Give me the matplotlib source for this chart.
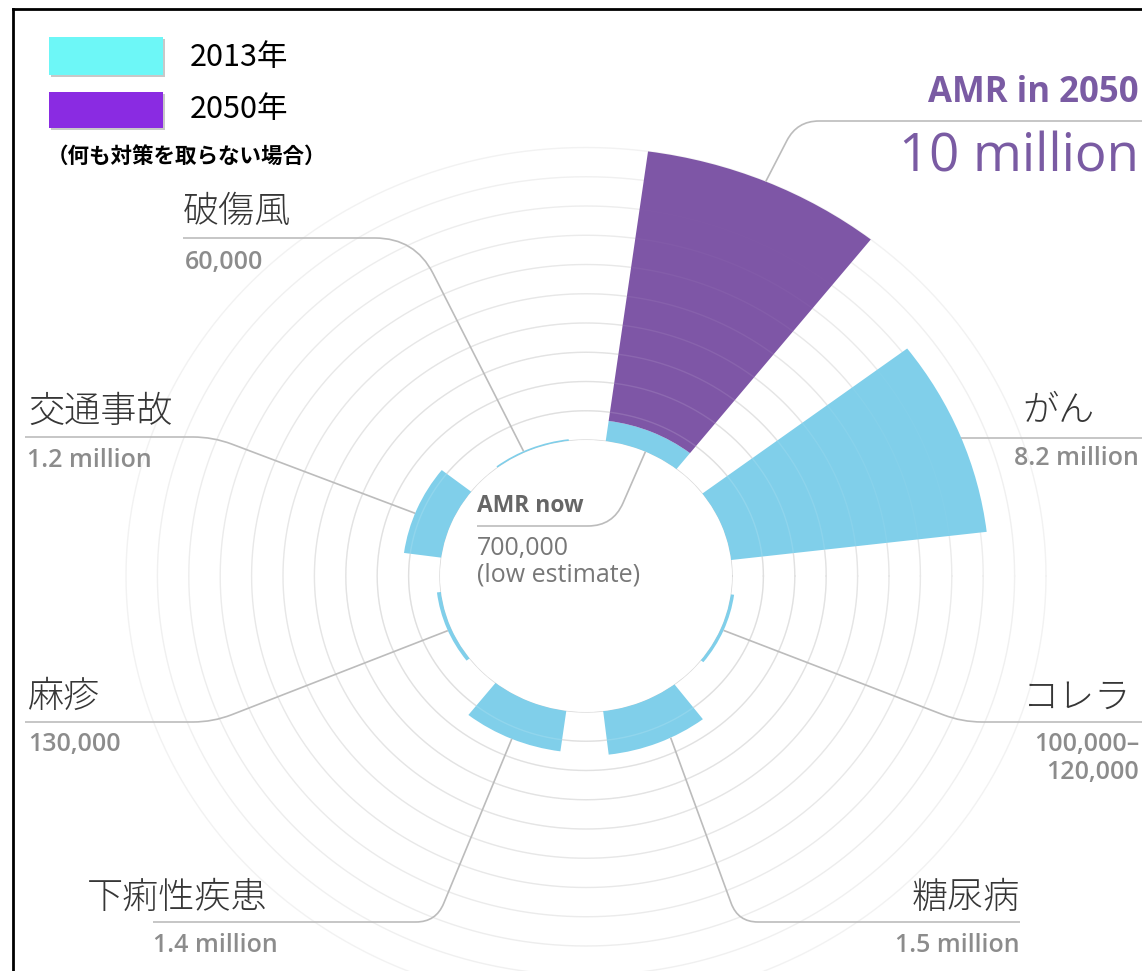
"""
AMR deaths radial chart: 2013 deaths by cause vs AMR projection for 2050.
Saves out.png (1142 x 971 px).
"""

import numpy as np
import matplotlib.pyplot as plt
from matplotlib.path import Path
from matplotlib.patches import PathPatch, Rectangle
from matplotlib.lines import Line2D

plt.rcParams['font.family'] = ['Noto Sans CJK JP', 'DejaVu Sans']

# ── Data (deaths per year, millions) ─────────────────────────────────────────
categories   = ['AMR', 'がん', 'コレラ', '糖尿病', '下痢性疾患', '麻疹', '交通事故', '破傷風']
deaths_2013  = [0.7, 8.2, 0.11, 1.5, 1.4, 0.13, 1.2, 0.06]
amr_2050     = 10.0
value_labels = ['', '8.2 million', '100,000–\n120,000', '1.5 million',
                '1.4 million', '130,000', '1.2 million', '60,000']
ring_values  = list(range(0, 11))
legend_labels = ['2013年', '2050年']
legend_note   = '（何も対策を取らない場合）'

# ── Styles ───────────────────────────────────────────────────────────────────
CYAN      = '#80cfea'
PURPLE    = '#7e56a6'
LEG_CYAN  = '#6df7f7'
LEG_PURP  = '#8a2be2'
LINE      = '#bcbcbc'
NUM_GRAY  = '#8c8c8c'
TXT_DARK  = '#363636'
TXT_PURP  = '#7a5ba3'
LATIN     = ['Open Sans', 'Noto Sans CJK JP', 'DejaVu Sans']

W, H = 1142, 971
fig = plt.figure(figsize=(W / 100, H / 100), dpi=100)


def fx(x):
    return x / W


def fy(y):
    return 1 - y / H


# ── Polar axes (slightly stretched horizontally, like the source) ────────────
CX, CY   = 586, 576       # centre, px from top-left
RX, RY   = 146, 136       # inner radius, px
PX_PER_M = 31.4           # horizontal px per million
R_MAX    = 11

r_origin = -RX / PX_PER_M
half_w   = (R_MAX - r_origin) * PX_PER_M
half_h   = half_w * RY / RX
ax = fig.add_axes([fx(CX - half_w), fy(CY + half_h), 2 * half_w / W, 2 * half_h / H],
                  projection='polar')
ax.set_aspect('auto')
ax.set_rorigin(r_origin)
ax.set_ylim(0, R_MAX)
ax.axis('off')

n      = len(categories)
step   = np.deg2rad(45)
thetas = np.deg2rad(67) - step * np.arange(n)
width  = np.deg2rad(30.5)

# rings behind bars, fading outwards
tt = np.linspace(0, 2 * np.pi, 721)
for v in ring_values:
    g = 0.85 + 0.10 * v / max(ring_values)
    ax.plot(tt, np.full_like(tt, v), color=(g, g, g), lw=1.0, zorder=1)

# bars
ax.bar(thetas, deaths_2013, width=width, bottom=0, color=CYAN, lw=0, zorder=2)
ax.bar(thetas[0], amr_2050 - deaths_2013[0], width=width, bottom=deaths_2013[0],
       color=PURPLE, lw=0, zorder=2)

# faint rings showing through the bars
for v in ring_values[1:]:
    a = max(0.0, 0.15 * (1 - v / 8.5))
    if a > 0:
        ax.plot(tt, np.full_like(tt, v), color='white', alpha=a, lw=1.0, zorder=3)


# ── Leader lines ─────────────────────────────────────────────────────────────
def data_px(theta_deg, r):
    x, y = ax.transData.transform((np.deg2rad(theta_deg), r))
    return x, H - y


def leader(p0, corner=None, p1=None, rad=20):
    if corner is None:
        verts = [p0, p1]
        codes = [Path.MOVETO, Path.LINETO]
    else:
        a0, c, b1 = np.array(p0, float), np.array(corner, float), np.array(p1, float)
        d0 = (a0 - c) / np.linalg.norm(a0 - c)
        d1 = (b1 - c) / np.linalg.norm(b1 - c)
        verts = [a0, c + d0 * rad, c, c + d1 * rad, b1]
        codes = [Path.MOVETO, Path.LINETO, Path.CURVE3, Path.CURVE3, Path.LINETO]
    verts = [(fx(x), fy(y)) for x, y in verts]
    fig.add_artist(PathPatch(Path(verts, codes), transform=fig.transFigure,
                             fill=False, ec=LINE, lw=1.2, zorder=5))


leader(data_px(66, 0), (613, 526), (477, 526), rad=25)           # AMR now
leader(data_px(67, amr_2050), (797, 121), (1142, 121), rad=22)   # AMR 2050
ca = data_px(21.5, deaths_2013[1])
leader(ca, None, (1142, ca[1]))                                  # がん
leader(data_px(-23, deaths_2013[2]), (962, 722), (1142, 722))    # コレラ
leader(data_px(-64, deaths_2013[3]), (738, 922), (1020, 922))    # 糖尿病
leader(data_px(-113, deaths_2013[4]), (436, 922), (153, 922))    # 下痢性疾患
leader(data_px(-157, deaths_2013[5]), (213, 722), (25, 722))     # 麻疹
leader(data_px(158.5, deaths_2013[6]), (213, 437), (25, 437))    # 交通事故
leader(data_px(115, deaths_2013[7]), (415, 238), (183, 238), rad=40)  # 破傷風


# ── Labels ───────────────────────────────────────────────────────────────────
def label(x, y, s, ha='left', size=25, color=TXT_DARK, **kw):
    fig.text(fx(x), fy(y), s, ha=ha, va='center', fontsize=size, color=color, **kw)


# (category x, category y, value y, alignment, value x)
label_pos = {
    'がん':       (1095, 411, 458, 'right', 1139),
    'コレラ':     (1131, 697, None, 'right', 1139),
    '糖尿病':     (1020, 898, 945, 'right', 1020),
    '下痢性疾患': (87, 898, 945, 'left', 153),
    '麻疹':       (28, 697, 745, 'left', 28),
    '交通事故':   (28, 412, 460, 'left', 27),
    '破傷風':     (183, 212, 262, 'left', 185),
}
for name, val in zip(categories[1:], value_labels[1:]):
    x, y, vy, ha, vx = label_pos[name]
    label(x, y, name, ha=ha, size=26, weight='light')
    if vy is not None:
        label(vx, vy, val, ha=ha, size=18, color=NUM_GRAY, family=LATIN, weight='semibold')

# cholera value sits on two lines
lo, hi = value_labels[2].split('\n')
label(1139, 745, lo, ha='right', size=18, color=NUM_GRAY, family=LATIN, weight='semibold')
label(1139, 772, hi, ha='right', size=18, color=NUM_GRAY, family=LATIN, weight='semibold')

# AMR now / AMR 2050
label(477, 506, 'AMR now', size=16.5, color='#666666', family=LATIN, weight='bold')
label(477, 548, '700,000', size=18, color='#777777', family=LATIN)
label(477, 575, '(low estimate)', size=18, color='#777777', family=LATIN)
label(1139, 93, 'AMR in 2050', ha='right', size=25, color=TXT_PURP, family=LATIN, weight='bold')
label(1139, 158, '10 million', ha='right', size=38, color=TXT_PURP, family=LATIN)

# ── Legend ───────────────────────────────────────────────────────────────────
for (top, h, col), txt, ty in zip([(37, 38, LEG_CYAN), (92, 36, LEG_PURP)],
                                  legend_labels, [57, 110]):
    fig.add_artist(Rectangle((fx(51), fy(top + h + 2)), 114 / W, h / H,
                             transform=fig.transFigure, color='#c8c8c8', lw=0))
    fig.add_artist(Rectangle((fx(49), fy(top + h)), 114 / W, h / H,
                             transform=fig.transFigure, color=col, lw=0))
    label(190, ty, txt, size=22, color='black')
label(47, 157, legend_note, size=15.5, color='black', weight='bold')

# ── Border (left and top edges visible) ──────────────────────────────────────
fig.add_artist(Line2D([fx(13), fx(13)], [fy(9), 0], transform=fig.transFigure,
                      color='black', lw=2))
fig.add_artist(Line2D([fx(13), 1], [fy(9), fy(9)], transform=fig.transFigure,
                      color='black', lw=2))

fig.savefig('out.png', dpi=100)
